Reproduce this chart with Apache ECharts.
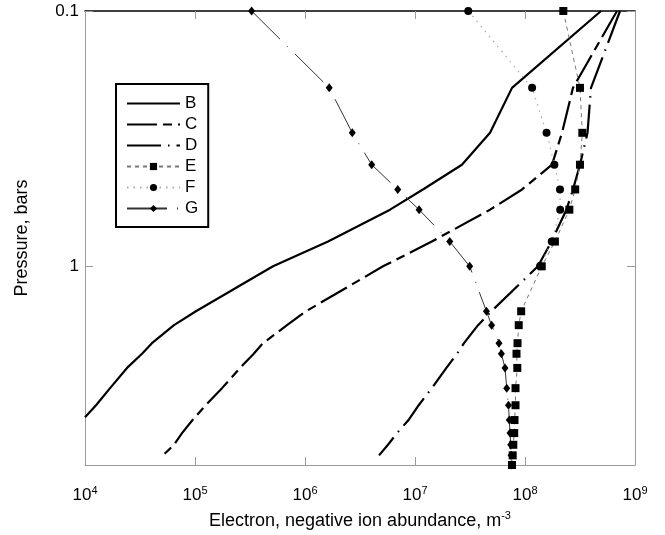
<!DOCTYPE html>
<html><head><meta charset="utf-8">
<script src="https://cdn.jsdelivr.net/npm/echarts@6/dist/echarts.min.js"></script>
<style>html,body{margin:0;padding:0;background:#fff}#c{width:665px;height:535px}</style>
</head><body><div id="c"></div>
<script>
// Pressure grid (bars)
const pressure = [0.1,0.2,0.3,0.4,0.5,0.6,0.8,1.0,1.5,1.7,2.0,2.2,2.5,3.0,3.5,4.0,4.5,5.0,5.5,6.0];
const B_p = [0.1,0.2,0.3,0.4,0.5,0.6,0.8,1.0,1.5,1.7,2.0,2.2,2.5,3.0,3.5,3.9];
const B_n = [4.91e8,7.62e7,4.81e7,2.67e7,1.18e7,5.93e6,1.62e6,5.12e5,1.02e5,6.44e4,4.06e4,3.3e4,2.41e4,1.69e4,1.26e4,1.0e4];
const C_p = [0.1,0.2,0.3,0.4,0.5,0.6,0.8,1.0,1.5,1.7,2.0,2.2,2.5,3.0,3.5,4.0,4.5,5.0,5.5];
const C_n = [6.86e8,2.73e8,2.17e8,1.76e8,9.4e7,4.81e7,1.42e7,5.12e6,1.02e6,6.86e5,4.15e5,3.42e5,2.57e5,1.76e5,1.25e5,9.5e4,7.62e4,6.44e4,5.12e4];
const D_p = [0.1,0.2,0.3,0.4,0.5,0.6,0.8,1.0,1.5,1.7,2.0,2.2,2.5,3.0,3.5,4.0,4.5,5.0,5.5];
const D_n = [7.31e8,3.98e8,3.7e8,3.16e8,2.73e8,2.38e8,1.74e8,1.31e8,4.95e7,3.74e7,2.79e7,2.41e7,1.93e7,1.42e7,1.08e7,8.73e6,6.86e6,5.68e6,4.71e6];
const E_n = [2.23e8,3.16e8,3.32e8,3.16e8,2.86e8,2.53e8,1.87e8,1.42e8,9.23e7,8.77e7,8.55e7,8.37e7,8.51e7,8.2e7,8.2e7,8.03e7,7.98e7,7.83e7,7.73e7,7.62e7];
const F_p = [0.1,0.2,0.3,0.4,0.5,0.6,0.8,1.0];
const F_n = [3.05e7,1.16e8,1.57e8,1.85e8,2.08e8,2.09e8,1.75e8,1.37e8];
const G_n = [3.27e5,1.66e6,2.69e6,4.04e6,6.97e6,1.09e7,2.07e7,3.14e7,4.46e7,4.97e7,5.8e7,6.1e7,6.58e7,6.82e7,7.08e7,7.2e7,7.31e7,7.42e7,7.47e7,7.53e7];
const xTicks = [1e4,1e5,1e6,1e7,1e8,1e9];
const yTicks = [0.1,1];
const names = ['B','C','D','E','F','G'];

const pair = (xs, ps) => xs.map((v, i) => [v, ps[i]]);
const FONT = '"Liberation Sans", Arial, sans-serif';
const GRAY = '#9a9a9a';

const chart = echarts.init(document.getElementById('c'), null, {renderer: 'canvas'});

const lineSeries = (name, data, ls, sym, symSize) => ({
  name, type: 'line', data, xAxisIndex: 0, yAxisIndex: 0,
  symbol: sym || 'none', symbolSize: symSize || 0, showSymbol: !!sym,
  itemStyle: {color: '#000'},
  lineStyle: ls, clip: true, animation: false, z: sym ? 3 : 2,
  emphasis: {disabled: true}
});

const noMarker = {opacity: 0, color: 'rgba(0,0,0,0)', borderWidth: 0};
const option = {
  animation: false,
  backgroundColor: '#fff',
  textStyle: {fontFamily: FONT},
  grid: {left: 85, right: 30, top: 11, bottom: 65, containLabel: false},
  legend: {
    data: names.map(n => (['B','C','D'].includes(n) ? {name: n, itemStyle: noMarker} : {name: n})),
    orient: 'vertical', left: 116, top: 84,
    itemWidth: 53, itemHeight: 9, itemGap: 0,
    padding: [9, 10, 8, 10],
    borderColor: '#000', borderWidth: 2, backgroundColor: '#fff',
    textStyle: {fontSize: 17, lineHeight: 21, color: '#000', fontFamily: FONT},
    selectedMode: false
  },
  xAxis: [
    {type: 'log', logBase: 10, min: 1e4, max: 1e9, position: 'bottom',
     axisLine: {onZero: false, lineStyle: {color: GRAY, width: 1}},
     axisTick: {inside: true, length: 8, lineStyle: {color: GRAY}},
     minorTick: {show: false}, splitLine: {show: false},
     axisLabel: {margin: 20, color: '#000',
       formatter: v => '{b|10}{s|' + Math.round(Math.log10(v)) + '}',
       rich: {b: {fontSize: 17, fontFamily: FONT, color: '#000', lineHeight: 20},
              s: {fontSize: 11, fontFamily: FONT, color: '#000', verticalAlign: 'top', lineHeight: 20}}},
     name: 'Electron, negative ion abundance, m{s|-3}', nameLocation: 'middle', nameGap: 45,
     nameTextStyle: {fontSize: 18, color: '#000', fontFamily: FONT,
       rich: {s: {fontSize: 11, fontFamily: FONT, color: '#000', verticalAlign: 'top', lineHeight: 22}}}
    },
    {type: 'log', logBase: 10, min: 1e4, max: 1e9, position: 'top',
     axisLine: {onZero: false, lineStyle: {color: '#000', width: 1.5}},
     axisTick: {inside: true, length: 8, lineStyle: {color: GRAY}},
     axisLabel: {show: false}, splitLine: {show: false}}
  ],
  yAxis: [
    {type: 'log', logBase: 10, min: 0.1, max: 6, inverse: true, position: 'left',
     axisLine: {onZero: false, lineStyle: {color: GRAY, width: 1}},
     axisTick: {inside: true, length: 8, lineStyle: {color: GRAY}},
     splitLine: {show: false},
     axisLabel: {color: '#000', fontSize: 17, margin: 6, showMaxLabel: false,
       formatter: v => (Math.abs(v - 0.1) < 1e-6 ? '0.1' : (Math.abs(v - 1) < 1e-6 ? '1' : ''))},
     name: 'Pressure, bars', nameLocation: 'middle', nameGap: 54,
     nameTextStyle: {fontSize: 18, color: '#000', fontFamily: FONT}
    },
    {type: 'log', logBase: 10, min: 0.1, max: 6, inverse: true, position: 'right',
     axisLine: {onZero: false, lineStyle: {color: GRAY, width: 1}},
     axisTick: {inside: true, length: 8, lineStyle: {color: GRAY}},
     axisLabel: {show: false}, splitLine: {show: false}}
  ],
  series: [
    lineSeries('B', pair(B_n, B_p), {color: '#000', width: 2.2, type: 'solid'}),
    lineSeries('C', pair(C_n, C_p), {color: '#000', width: 2.2, type: [30, 6, 9, 6]}),
    lineSeries('D', pair(D_n, D_p), {color: '#000', width: 2.2, type: [34, 7, 1.5, 7]}),
    lineSeries('E', pair(E_n, pressure), {color: '#777', width: 1, type: [4, 4]}, 'rect', 8),
    lineSeries('F', pair(F_n, F_p), {color: '#aaa', width: 1.2, type: [1.5, 5]}, 'circle', 8),
    lineSeries('G', pair(G_n, pressure), {color: '#333', width: 1, type: [40, 10, 1, 10]}, 'diamond', [7, 9])
  ]
};
chart.setOption(option);
</script>
</body></html>
